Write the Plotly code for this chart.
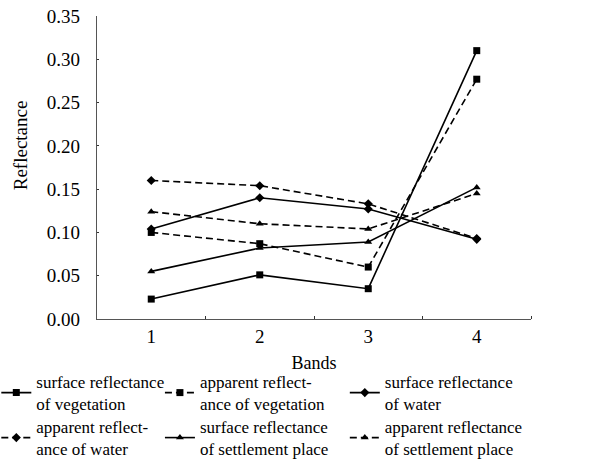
import plotly.graph_objects as go

bands = [1, 2, 3, 4]
surface_veg = [0.023, 0.051, 0.035, 0.310]
apparent_veg = [0.100, 0.087, 0.060, 0.277]
surface_water = [0.104, 0.140, 0.127, 0.092]
apparent_water = [0.160, 0.154, 0.133, 0.093]
surface_settle = [0.055, 0.082, 0.089, 0.152]
apparent_settle = [0.124, 0.110, 0.104, 0.145]

names = [
    "surface reflectance<br>of vegetation",
    "apparent reflect-<br>ance of vegetation",
    "surface reflectance<br>of water",
    "apparent reflect-<br>ance of water",
    "surface reflectance<br>of settlement place",
    "apparent reflectance<br>of settlement place",
]

series = [
    (surface_veg, names[0], "solid", "square", "legend"),
    (apparent_veg, names[1], "dash", "square", "legend2"),
    (surface_water, names[2], "solid", "diamond", "legend3"),
    (apparent_water, names[3], "dash", "diamond", "legend4"),
    (surface_settle, names[4], "solid", "triangle-up", "legend5"),
    (apparent_settle, names[5], "dash", "triangle-up", "legend6"),
]

fig = go.Figure()
for vals, name, dash, sym, leg in series:
    fig.add_trace(go.Scatter(
        x=bands, y=vals, name=name, mode="lines+markers",
        line=dict(color="black", width=1.6, dash="7px,4px" if dash == "dash" else "solid"),
        marker=dict(symbol=sym, size=7, color="black"),
        legend=leg,
    ))

FAM = "Times New Roman, Liberation Serif, Nimbus Roman, DejaVu Serif, serif"
tickfont = dict(family=FAM, size=19, color="black")
titlefont = dict(family=FAM, size=18, color="black")
legfont = dict(family=FAM, size=17, color="black")

colx = [-0.232, 0.145, 0.571]
rowy = [-0.1485, -0.297]

def leg(c, r):
    return dict(x=colx[c], y=rowy[r], xanchor="left", yanchor="top", orientation="v",
                font=legfont, itemwidth=30, bgcolor="rgba(0,0,0,0)",
                tracegroupgap=0, valign="middle")

fig.update_layout(
    width=598, height=461,
    margin=dict(l=97, r=67, t=16, b=142, autoexpand=False),
    plot_bgcolor="white", paper_bgcolor="white",
    font=titlefont,
    showlegend=True,
    legend=leg(0, 0), legend2=leg(1, 0), legend3=leg(2, 0),
    legend4=leg(0, 1), legend5=leg(1, 1), legend6=leg(2, 1),
    xaxis=dict(
        range=[0.5, 4.5], tickvals=bands, ticktext=[str(b) for b in bands],
        ticks="", showgrid=False, zeroline=False,
        showline=True, linecolor="#555", linewidth=1.2,
        minor=dict(tickvals=[1.5, 2.5, 3.5, 4.5], ticks="inside", ticklen=3,
                   tickcolor="#333", showgrid=False),
        title=dict(text="Bands", font=titlefont, standoff=10),
        tickfont=tickfont, ticklabelstandoff=0,
    ),
    yaxis=dict(
        range=[0, 0.35], tickvals=[0, 0.05, 0.1, 0.15, 0.2, 0.25, 0.3, 0.35],
        tickformat=".2f", ticks="inside", ticklen=2, tickcolor="#333",
        showgrid=False, zeroline=False,
        showline=True, linecolor="#555", linewidth=1.2,
        tickfont=tickfont, ticklabelstandoff=12,
    ),
    annotations=[dict(
        text="Reflectance", textangle=-90, xref="paper", yref="paper",
        x=-0.177, y=0.574, xanchor="center", yanchor="middle", showarrow=False,
        font=dict(family=FAM, size=19, color="black"),
    )],
)

fig.write_html("out.html")
